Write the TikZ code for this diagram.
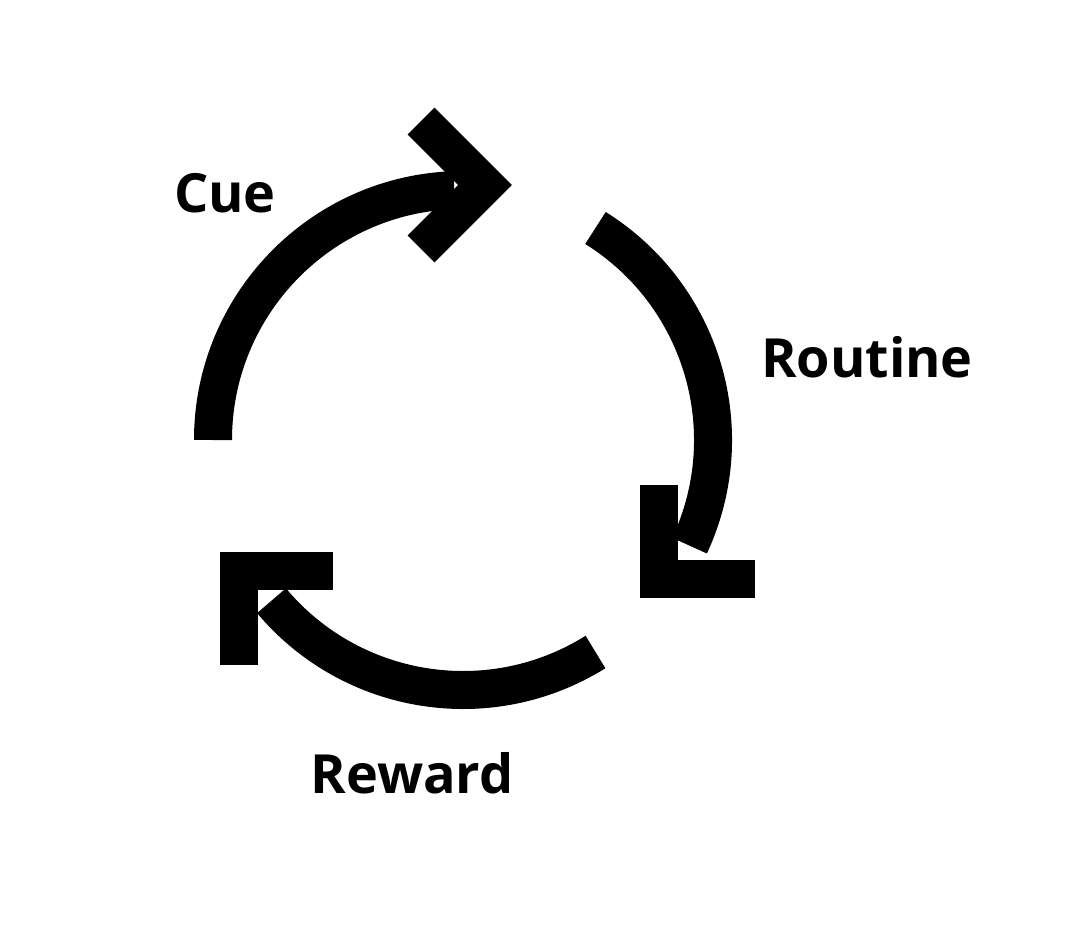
\documentclass[tikz,border=0pt]{standalone}
\usepackage{fontspec}
\setmainfont{Open Sans}
\tikzset{every picture/.style={line width=0.75pt}}
\tikzset{loopline/.style={line width=38pt,line join=miter},
  steplabel/.style={font=\fontsize{54}{60}\selectfont\bfseries}}
\begin{document}
\begin{tikzpicture}[x=1pt,y=1pt,yscale=-1,xscale=1]
\useasboundingbox (0,0) rectangle (1080,950);
%Cycle centre
\coordinate (c) at (463,440);
%Arc: Cue
\draw [loopline] (c) ++(180:250) arc (180:268:250);
\draw [loopline] (421,121) -- (485,185) -- (421,249);
%Arc: Routine
\draw [loopline] (c) ++(-58:250) arc (-58:25:250);
\draw [loopline] (659,485) -- (659,579) -- (755,579);
%Arc: Reward
\draw [loopline] (c) ++(58:250) arc (58:140:250);
\draw [loopline] (239,665) -- (239,571) -- (333,571);
%Labels
\node [steplabel] (cue) at (225,193) {Cue};
\node [steplabel] (routine) at (867,357) {Routine};
\node [steplabel] (reward) at (412,773) {Reward};
\end{tikzpicture}
\end{document}
